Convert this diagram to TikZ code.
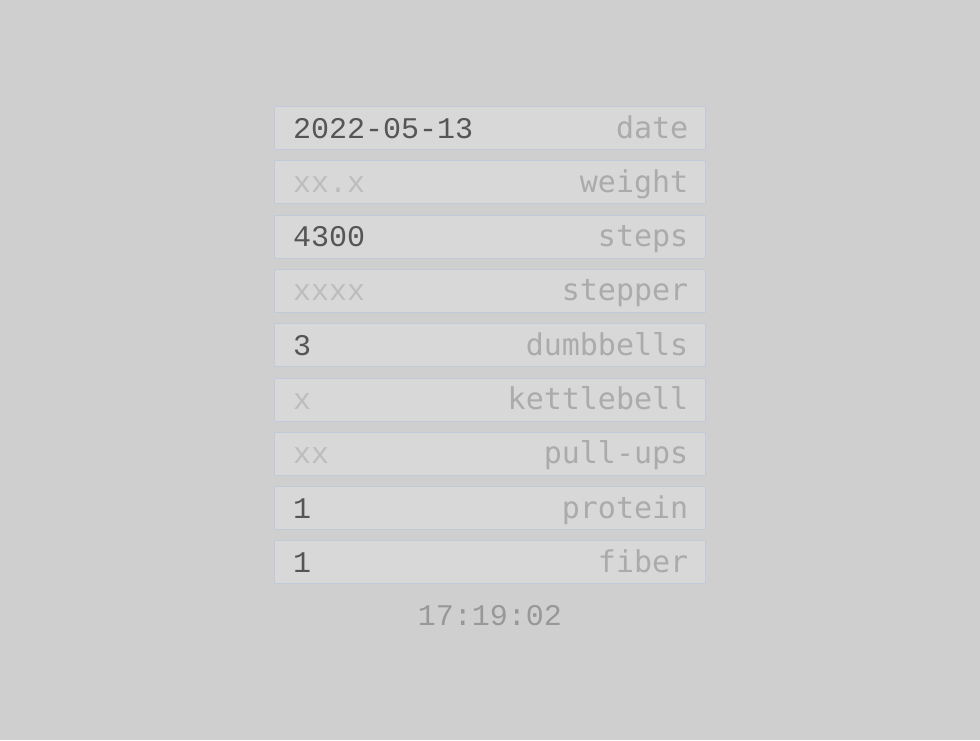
\documentclass[tikz,border=0pt]{standalone}
\usepackage{fontspec}
\setmonofont{Liberation Mono}
\newfontfamily\labfont{DejaVu Sans Mono}
\usetikzlibrary{calc}
\definecolor{bgc}{HTML}{CFCFCF}
\definecolor{boxc}{HTML}{D8D8D8}
\definecolor{boxline}{HTML}{C2CADA}
\definecolor{valc}{HTML}{555555}
\definecolor{phc}{HTML}{BDBDBD}
\definecolor{labc}{HTML}{ABABAB}
\definecolor{timec}{HTML}{989898}
\tikzset{
  field/.style={draw=boxline, fill=boxc, line width=1pt, minimum width=431pt, minimum height=43pt, inner sep=0pt, outer sep=0pt},
  valtxt/.style={anchor=base west, inner sep=0pt, font=\fontsize{30}{30}\selectfont\ttfamily, text=valc},
  phtxt/.style={valtxt, text=phc},
  labtxt/.style={anchor=base east, inner sep=0pt, font=\fontsize{30}{30}\selectfont\labfont, text=labc},
  timetxt/.style={anchor=base, inner sep=0pt, font=\fontsize{30}{30}\selectfont\ttfamily, text=timec}
}
\begin{document}
\begin{tikzpicture}[x=1pt,y=-1pt]
\fill[bgc] (0,0) rectangle (980,740);
\useasboundingbox (0,0) rectangle (980,740);
\foreach \i/\v/\st/\l in {0/2022-05-13/valtxt/date, 1/xx.x/phtxt/weight, 2/4300/valtxt/steps, 3/xxxx/phtxt/stepper, 4/3/valtxt/dumbbells, 5/x/phtxt/kettlebell, 6/xx/phtxt/pull-ups, 7/1/valtxt/protein, 8/1/valtxt/fiber}{
  \node[field] (f\i) at (490,{128+54.3*\i}) {};
  \node[\st] (v\i) at ($(f\i.west)+(18.5,10)$) {\v};
  \node[labtxt] (l\i) at ($(f\i.east)+(-17,10)$) {\l};
}
\node[timetxt] (t) at (490,625) {17:19:02};
\end{tikzpicture}
\end{document}
